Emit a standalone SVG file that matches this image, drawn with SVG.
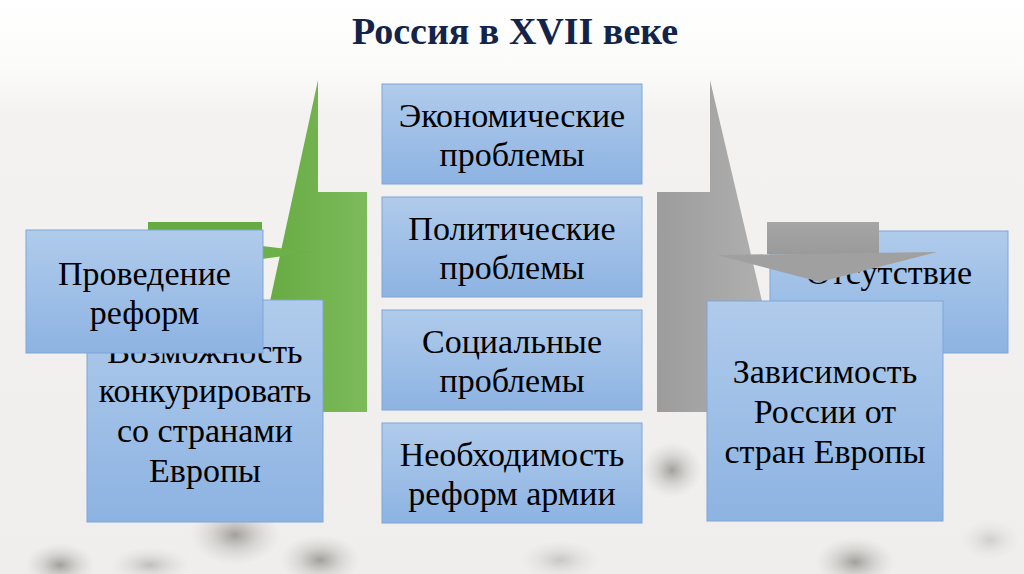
<svg xmlns="http://www.w3.org/2000/svg" width="1024" height="574" viewBox="0 0 1024 574">
  <defs>
    <linearGradient id="boxg" x1="0" y1="0" x2="0" y2="1">
      <stop offset="0" stop-color="#b0cbeb"/>
      <stop offset="1" stop-color="#8db3e2"/>
    </linearGradient>
    <linearGradient id="greeng" x1="0" y1="0" x2="1" y2="0">
      <stop offset="0" stop-color="#62a83d"/>
      <stop offset="1" stop-color="#7dba5b"/>
    </linearGradient>
    <linearGradient id="greyg" x1="0" y1="0" x2="1" y2="0">
      <stop offset="0" stop-color="#9c9c9c"/>
      <stop offset="1" stop-color="#b4b4b4"/>
    </linearGradient>
    <linearGradient id="greyv" x1="0" y1="0" x2="0" y2="1">
      <stop offset="0" stop-color="#a6a6a6"/>
      <stop offset="1" stop-color="#9a9a9a"/>
    </linearGradient>
    <linearGradient id="bgfade" x1="0" y1="0" x2="0" y2="1">
      <stop offset="0" stop-color="#ffffff"/>
      <stop offset="0.12" stop-color="#fbfbfa"/>
      <stop offset="0.2" stop-color="#f3f2f0"/>
      <stop offset="1" stop-color="#efeeec"/>
    </linearGradient>
    <radialGradient id="smudge">
      <stop offset="0" stop-color="#6e6a66" stop-opacity="0.6"/>
      <stop offset="0.5" stop-color="#8a8682" stop-opacity="0.25"/>
      <stop offset="1" stop-color="#b0aca8" stop-opacity="0"/>
    </radialGradient>
    <style>
      .box { fill: url(#boxg); stroke: #7ea5d6; stroke-width: 1; }
      .t { font-family: "Liberation Serif", "Times New Roman", serif; font-size: 34px; fill: #000; text-anchor: middle; }
      .title { font-family: "Liberation Serif", "Times New Roman", serif; font-size: 38px; font-weight: bold; fill: #13244a; text-anchor: middle; }
    </style>
  </defs>

  <!-- background -->
  <rect x="0" y="0" width="1024" height="574" fill="url(#bgfade)"/>
  <g id="smudges">
    <ellipse cx="235" cy="535" rx="45" ry="30" fill="url(#smudge)"/>
    <ellipse cx="60" cy="565" rx="35" ry="22" fill="url(#smudge)"/>
    <ellipse cx="320" cy="560" rx="40" ry="25" fill="url(#smudge)"/>
    <ellipse cx="672" cy="470" rx="30" ry="28" fill="url(#smudge)"/>
    <ellipse cx="855" cy="562" rx="40" ry="25" fill="url(#smudge)"/>
    <ellipse cx="620" cy="470" rx="25" ry="18" fill="url(#smudge)" opacity="0.6"/>
    <ellipse cx="560" cy="560" rx="40" ry="20" fill="url(#smudge)" opacity="0.5"/>
    <ellipse cx="150" cy="565" rx="40" ry="18" fill="url(#smudge)" opacity="0.6"/>
    <ellipse cx="990" cy="540" rx="30" ry="20" fill="url(#smudge)" opacity="0.4"/>
  </g>

  <text class="title" x="515" y="44">Россия в XVII веке</text>

  <!-- left green arrow shapes -->
  <g id="green-arrow">
    <polygon points="318,80 318,192 367,192 367,412 246,412" fill="url(#greeng)"/>
    <rect x="148" y="222" width="114" height="60" fill="#66aa42"/>
    <polygon points="262,246 312,252 262,259" fill="#6cb048"/>
  </g>

  <!-- right grey arrow column -->
  <g id="grey-arrow-column">
    <polygon points="710,80 788,412 657,412 657,192 710,192" fill="url(#greyg)"/>
  </g>

  <!-- central boxes -->
  <g id="box-economic">
    <rect class="box" x="382" y="84" width="260" height="100"/>
    <text class="t" x="512" y="127">Экономические</text>
    <text class="t" x="512" y="166">проблемы</text>
  </g>
  <g id="box-political">
    <rect class="box" x="382" y="197" width="260" height="100"/>
    <text class="t" x="512" y="240">Политические</text>
    <text class="t" x="512" y="279">проблемы</text>
  </g>
  <g id="box-social">
    <rect class="box" x="382" y="310" width="260" height="100"/>
    <text class="t" x="512" y="353">Социальные</text>
    <text class="t" x="512" y="392">проблемы</text>
  </g>
  <g id="box-army">
    <rect class="box" x="382" y="423" width="260" height="100"/>
    <text class="t" x="512" y="466">Необходимость</text>
    <text class="t" x="512" y="505">реформ армии</text>
  </g>

  <!-- left boxes -->
  <g id="box-compete">
    <rect class="box" x="87" y="300" width="236" height="222"/>
    <text class="t" x="205" y="363">Возможность</text>
    <text class="t" x="205" y="402">конкурировать</text>
    <text class="t" x="205" y="442">со странами</text>
    <text class="t" x="205" y="482">Европы</text>
  </g>
  <g id="box-reforms">
    <rect class="box" x="26" y="230" width="237" height="123"/>
    <text class="t" x="144.5" y="285">Проведение</text>
    <text class="t" x="144.5" y="324">реформ</text>
  </g>

  <!-- right boxes -->
  <g id="box-absence">
    <rect class="box" x="770" y="231" width="238" height="122"/>
    <text class="t" x="889" y="284">Отсутствие</text>
  </g>
  <g id="grey-arrow-head">
    <rect x="767" y="222" width="112" height="32" fill="url(#greyv)"/>
    <polygon points="717,255 937,252 820,282" fill="#a0a0a0"/>
  </g>
  <g id="box-dependence">
    <rect class="box" x="707" y="301" width="236" height="220"/>
    <text class="t" x="825" y="383">Зависимость</text>
    <text class="t" x="825" y="423">России от</text>
    <text class="t" x="825" y="463">стран Европы</text>
  </g>
</svg>
